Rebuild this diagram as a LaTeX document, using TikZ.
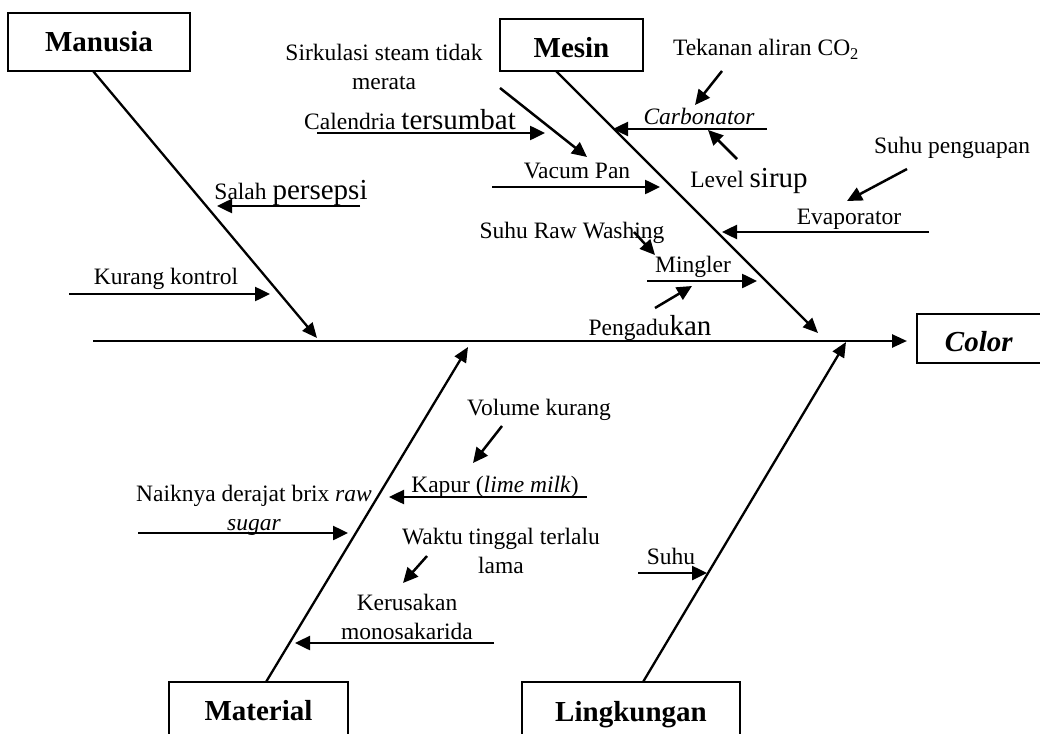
\documentclass[tikz,border=0pt]{standalone}
\usepackage{fontspec}
\setmainfont{Liberation Serif}
\usetikzlibrary{arrows.meta}
\newcommand{\bigw}[1]{{\fontsize{29}{30}\selectfont #1}}
\begin{document}
\begin{tikzpicture}[x=1pt,y=-1pt,
  lbl/.style={font=\fontsize{23.5}{29}\selectfont, inner sep=0pt, align=center, yshift=-2.5pt},
  catbox/.style={draw, line width=1.9pt, inner sep=0pt, font=\fontsize{29}{30}\selectfont\bfseries},
  spine/.style={line width=2.6pt, -{Triangle[length=15pt,width=13pt]}},
  bone/.style={line width=2.3pt, -{Triangle[length=15pt,width=13pt]}},
  subar/.style={line width=2.5pt, -{Triangle[length=15pt,width=14pt]}},
]
\useasboundingbox (0,0) rectangle (1040,733);

% category boxes
\node[catbox, minimum width=182pt, minimum height=58pt] (manusia) at (99,42) {Manusia};
\node[catbox, minimum width=143pt, minimum height=52pt, text height=25pt] (mesin) at (571.5,45) {Mesin};
\node[catbox, minimum width=123.5pt, minimum height=49pt, text height=27pt, font=\fontsize{29}{30}\selectfont\bfseries\itshape] (color) at (978.75,338.5) {Color};
\node[catbox, minimum width=179pt, minimum height=58pt] (material) at (258.5,711) {Material};
\node[catbox, minimum width=218pt, minimum height=58pt, text depth=0pt] (lingkungan) at (631,711) {Lingkungan};

% spine and bones
\coordinate (s0) at (93,341);
\coordinate (s1) at (907,341);
\draw[spine] (s0) -- (s1);
\coordinate (b1a) at (93,71);   \coordinate (b1b) at (317,338);
\coordinate (b2a) at (556,71);  \coordinate (b2b) at (818,333);
\coordinate (b3a) at (266,682); \coordinate (b3b) at (468,347);
\coordinate (b4a) at (643,682); \coordinate (b4b) at (846,342);
\draw[bone] (b1a) -- (b1b);
\draw[bone] (b2a) -- (b2b);
\draw[bone] (b3a) -- (b3b);
\draw[bone] (b4a) -- (b4b);

% Manusia causes
\node[lbl] (salah) at (291,190) {Salah \bigw{persepsi}};
\coordinate (sa0) at (360,206); \coordinate (sa1) at (217,206);
\draw[subar] (sa0) -- (sa1);
\node[lbl] (kurang) at (166,276) {Kurang kontrol};
\coordinate (ku0) at (69,294); \coordinate (ku1) at (270,294);
\draw[subar] (ku0) -- (ku1);

% Mesin causes
\node[lbl] (sirk) at (384,64) {Sirkulasi steam tidak\\merata};
\coordinate (si0) at (500,88); \coordinate (si1) at (587,157);
\draw[subar] (si0) -- (si1);
\node[lbl] (calend) at (410,117) {Calendria \bigw{tersumbat}};
\coordinate (ca0) at (317,133); \coordinate (ca1) at (545,133);
\draw[subar] (ca0) -- (ca1);
\node[lbl] (vacum) at (577,168) {Vacum Pan};
\coordinate (va0) at (492,187); \coordinate (va1) at (660,187);
\draw[subar] (va0) -- (va1);
\node[lbl] (tekanan) at (766,47) {Tekanan aliran CO\textsubscript{2}};
\coordinate (te0) at (722,71); \coordinate (te1) at (695,105);
\draw[subar] (te0) -- (te1);
\node[lbl, font=\fontsize{23.5}{29}\selectfont\itshape] (carb) at (699,114) {Carbonator};
\coordinate (cb0) at (767,129); \coordinate (cb1) at (613,129);
\draw[subar] (cb0) -- (cb1);
\node[lbl] (level) at (749,178) {Level \bigw{sirup}};
\coordinate (le0) at (737,159); \coordinate (le1) at (708,130);
\draw[subar] (le0) -- (le1);
\node[lbl] (suhup) at (952,145) {Suhu penguapan};
\coordinate (sp0) at (907,169); \coordinate (sp1) at (847,201);
\draw[subar] (sp0) -- (sp1);
\node[lbl] (evap) at (849,217) {Evaporator};
\coordinate (ev0) at (929,232); \coordinate (ev1) at (722,232);
\draw[subar] (ev0) -- (ev1);
\node[lbl] (suhuraw) at (572,230) {Suhu Raw Washing};
\coordinate (sr0) at (634,232); \coordinate (sr1) at (655,255);
\draw[subar] (sr0) -- (sr1);
\node[lbl] (mingler) at (693,264) {Mingler};
\coordinate (mi0) at (647,281); \coordinate (mi1) at (757,281);
\draw[subar] (mi0) -- (mi1);
\node[lbl] (peng) at (650,325) {Pengadu\bigw{kan}};
\coordinate (pe0) at (655,308); \coordinate (pe1) at (692,286);
\draw[subar] (pe0) -- (pe1);

% Material causes
\node[lbl] (volume) at (539,407) {Volume kurang};
\coordinate (vo0) at (502,426); \coordinate (vo1) at (473,463);
\draw[subar] (vo0) -- (vo1);
\node[lbl] (kapur) at (495,484) {Kapur (\textit{lime milk})};
\coordinate (kp0) at (587,497); \coordinate (kp1) at (389,497);
\draw[subar] (kp0) -- (kp1);
\node[lbl] (naik) at (254,508) {Naiknya derajat brix \textit{raw}\\\textit{sugar}};
\coordinate (na0) at (138,533); \coordinate (na1) at (348,533);
\draw[subar] (na0) -- (na1);
\node[lbl] (waktu) at (501,548) {Waktu tinggal terlalu\\lama};
\coordinate (wa0) at (427,556); \coordinate (wa1) at (403,583);
\draw[subar] (wa0) -- (wa1);
\node[lbl] (kerus) at (407,614) {Kerusakan\\monosakarida};
\coordinate (ke0) at (494,643); \coordinate (ke1) at (295,643);
\draw[subar] (ke0) -- (ke1);

% Lingkungan causes
\node[lbl] (suhu) at (671,554) {Suhu};
\coordinate (su0) at (638,573); \coordinate (su1) at (707,573);
\draw[subar] (su0) -- (su1);
\end{tikzpicture}
\end{document}
